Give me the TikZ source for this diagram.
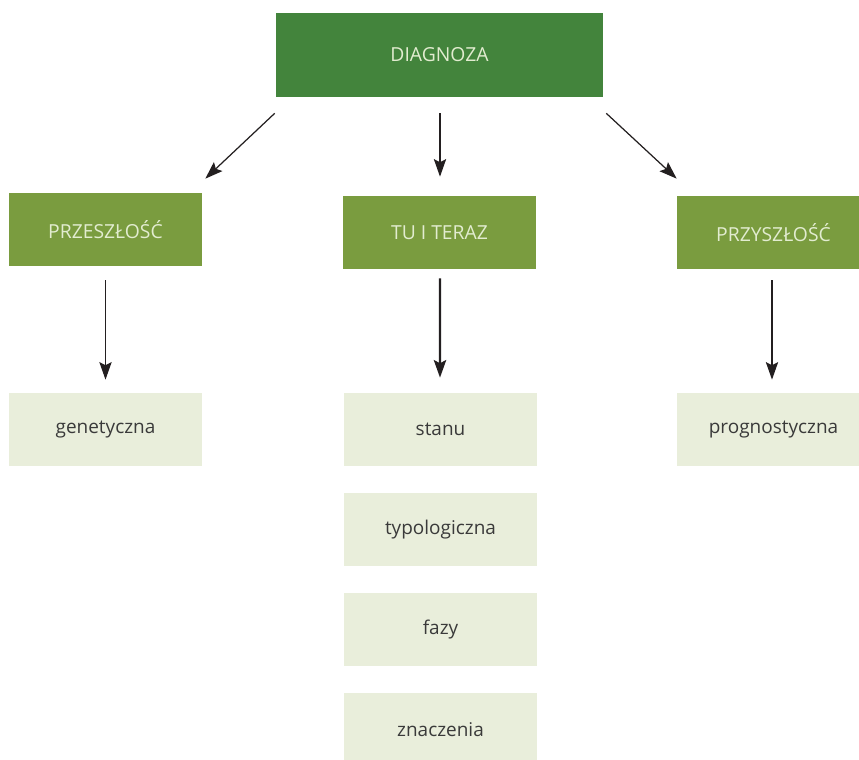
\documentclass[tikz,border=0pt]{standalone}
\usepackage{fontspec}
\setmainfont{Open Sans}
\usetikzlibrary{arrows.meta}

\definecolor{darkgreen}{HTML}{43843C}
\definecolor{midgreen}{HTML}{7A9C3F}
\definecolor{palegreen}{HTML}{E9EEDB}
\definecolor{paletext}{HTML}{E2ECD0}
\definecolor{greytext}{HTML}{3A3A3A}
\definecolor{arrowblack}{HTML}{231F20}

\begin{document}
\begin{tikzpicture}[x=0.02cm, y=-0.02cm]
  \tikzset{
    top_box/.style={rectangle, fill=darkgreen, text=paletext, inner sep=0pt, minimum width=6.54cm, minimum height=1.68cm, font=\fontsize{11}{13}\selectfont},
    time_box/.style={rectangle, fill=midgreen, text=paletext, inner sep=0pt, minimum width=3.86cm, minimum height=1.46cm, font=\fontsize{11}{13}\selectfont},
    kind_box/.style={rectangle, fill=palegreen, text=greytext, inner sep=0pt, minimum width=3.86cm, minimum height=1.46cm, font=\fontsize{10.8}{13}\selectfont},
    thin_arrow/.style={draw=arrowblack, line width=0.7pt, -{Stealth[length=10pt, width=7pt, inset=1.8pt]}},
    thick_arrow/.style={draw=arrowblack, line width=1.4pt, -{Stealth[length=10pt, width=7pt, inset=1.8pt]}}
  }

  % Bounding box jak w oryginale
  \useasboundingbox (0,0) rectangle (859,760);

  % Wezel glowny
  \node[top_box] (diagnoza) at (439.5,55) {DIAGNOZA};

  % Wezly czasu
  \node[time_box] (przeszlosc) at (105.5,229.5) {PRZESZŁOŚĆ};
  \node[time_box] (tuiteraz) at (439.5,232.5) {TU I TERAZ};
  \node[time_box] (przyszlosc) at (773.5,232.5) {PRZYSZŁOŚĆ};

  % Rodzaje diagnozy
  \node[kind_box] (genetyczna) at (105.5,429.5) {genetyczna};
  \node[kind_box] (stanu) at (440.5,429.5) {stanu};
  \node[kind_box] (typologiczna) at (440.5,529.5) {typologiczna};
  \node[kind_box] (fazy) at (440.5,629.5) {fazy};
  \node[kind_box] (znaczenia) at (440.5,729.5) {znaczenia};
  \node[kind_box] (prognostyczna) at (773.5,429.5) {prognostyczna};

  % Strzalki od diagnozy
  \draw[thin_arrow] ([shift={(-1,16)}]diagnoza.south west) -- ([shift={(3,-14)}]przeszlosc.north east);
  \draw[thin_arrow] ([shift={(0.5,16)}]diagnoza.south) -- ([shift={(0.5,-19)}]tuiteraz.north);
  \draw[thin_arrow] ([shift={(3,16)}]diagnoza.south east) -- ([shift={(0,-17)}]przyszlosc.north west);

  % Strzalki pionowe
  \draw[thin_arrow] ([shift={(0,14)}]przeszlosc.south) -- ([shift={(0,-13)}]genetyczna.north);
  \draw[thick_arrow] ([shift={(0.5,9)}]tuiteraz.south) -- ([shift={(-0.5,-15)}]stanu.north);
  \draw[thin_arrow] ([shift={(-1.5,11)}]przyszlosc.south) -- ([shift={(-1.5,-13)}]prognostyczna.north);
\end{tikzpicture}
\end{document}
